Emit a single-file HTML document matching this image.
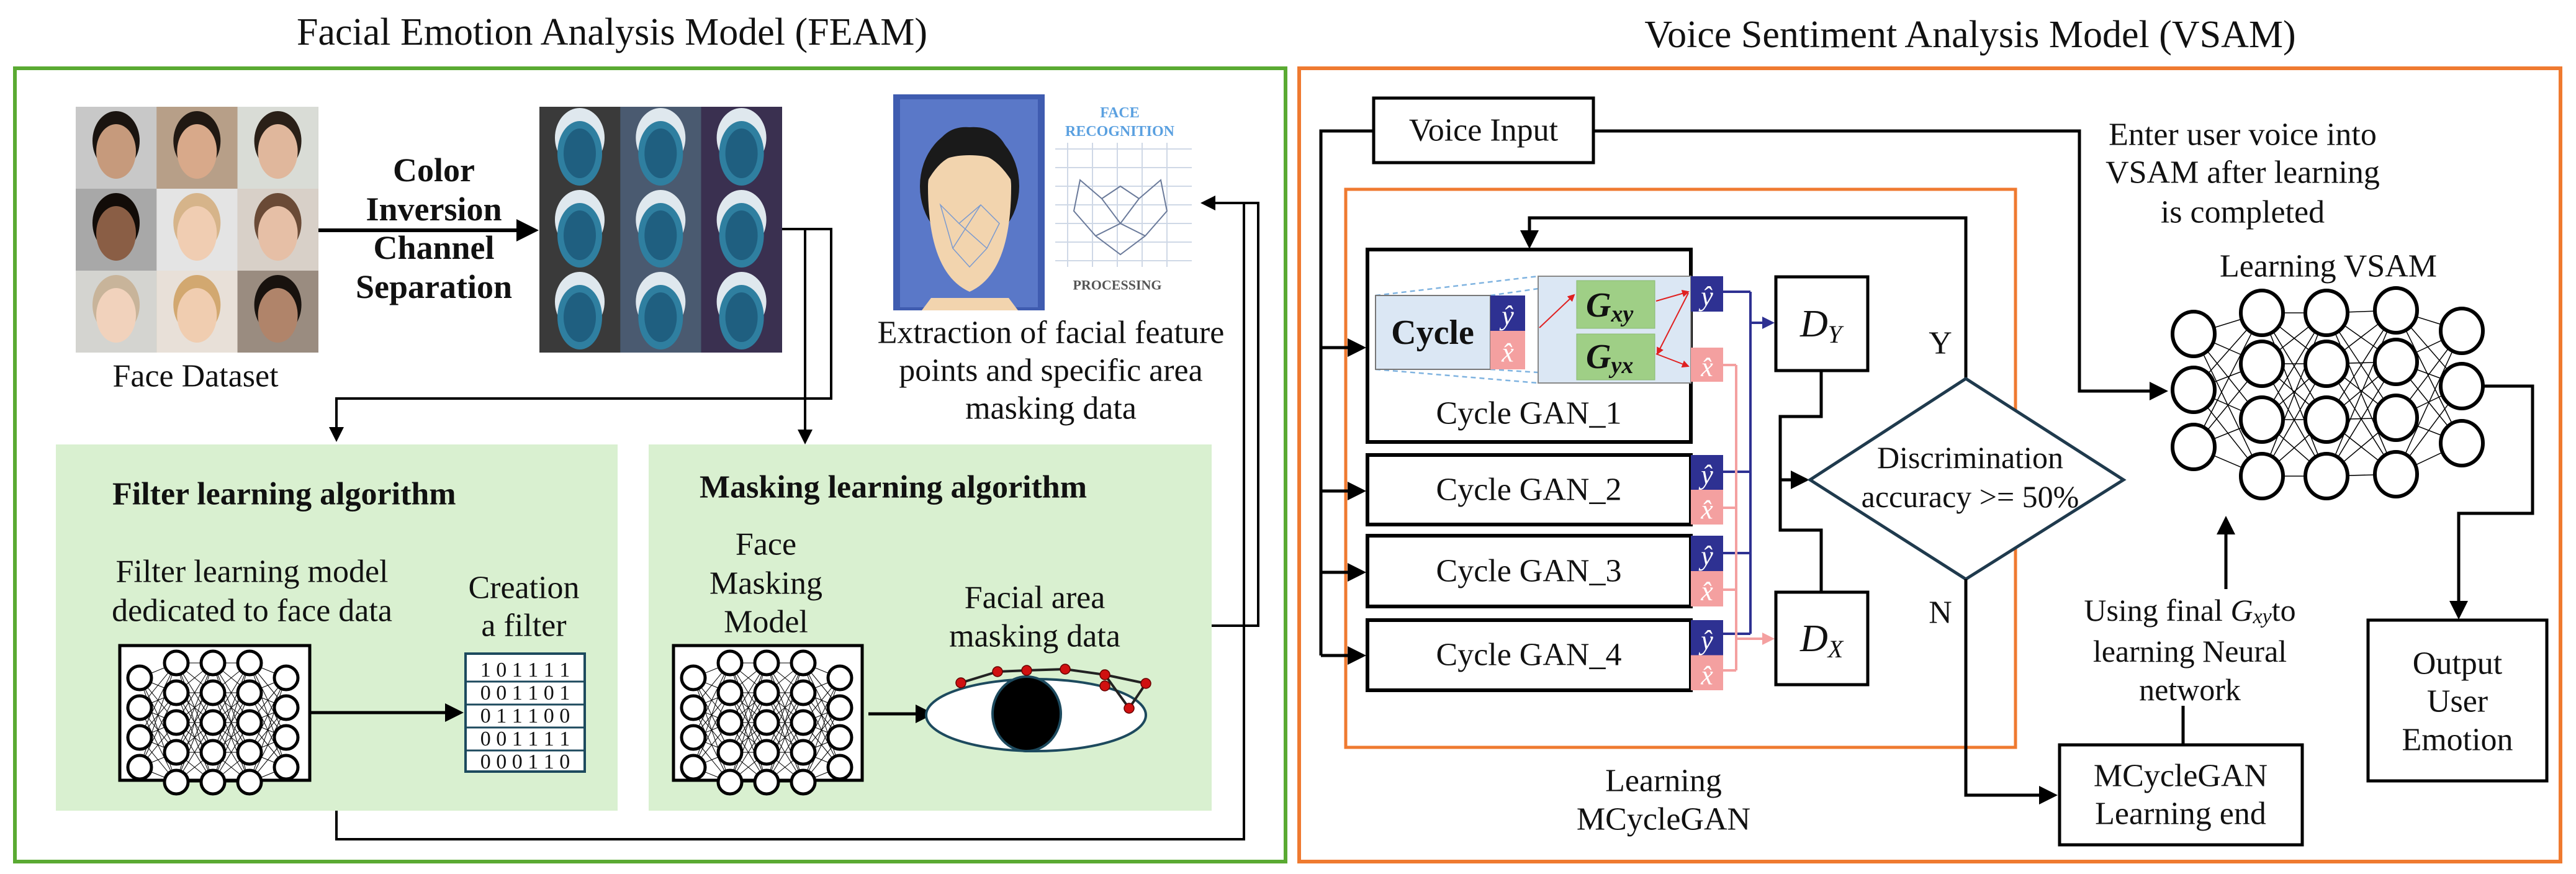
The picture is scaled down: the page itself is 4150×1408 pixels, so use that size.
<!DOCTYPE html>
<html><head><meta charset="utf-8"><style>
html,body{margin:0;padding:0;background:#fff}
svg{display:block}
text{font-family:"Liberation Serif",serif;fill:#111}
</style></head><body>
<svg id="s" width="4150" height="1408" viewBox="0 0 4150 1408" xmlns="http://www.w3.org/2000/svg">
<defs>
<marker id="ah" markerWidth="6" markerHeight="6" refX="5" refY="3" orient="auto" markerUnits="strokeWidth"><path d="M0,0 L6,3 L0,6 z" fill="#000"/></marker>
<marker id="ab" markerWidth="5" markerHeight="5" refX="4" refY="2.5" orient="auto" markerUnits="strokeWidth"><path d="M0,0 L5,2.5 L0,5 z" fill="#2e3192"/></marker>
<marker id="ap" markerWidth="5" markerHeight="5" refX="4" refY="2.5" orient="auto" markerUnits="strokeWidth"><path d="M0,0 L5,2.5 L0,5 z" fill="#f4a0a0"/></marker>
<marker id="ar" markerWidth="6" markerHeight="6" refX="5" refY="3" orient="auto" markerUnits="strokeWidth"><path d="M0,0 L6,3 L0,6 z" fill="#e02020"/></marker>
</defs>

<!-- Titles -->
<text x="986" y="52" font-size="62" text-anchor="middle" dominant-baseline="central">Facial Emotion Analysis Model (FEAM)</text>
<text x="3174" y="56" font-size="62" text-anchor="middle" dominant-baseline="central">Voice Sentiment Analysis Model (VSAM)</text>

<!-- Outer boxes -->
<rect x="24" y="110" width="2047" height="1278" fill="none" stroke="#5aaa32" stroke-width="6"/>
<rect x="2093" y="110" width="2032" height="1278" fill="none" stroke="#ef7a30" stroke-width="6"/>

<!-- Face dataset image -->
<g>
<rect x="122" y="172" width="391" height="396" fill="#b9ada4"/>
<g id="faces"></g>
</g>
<text x="315" y="606" font-size="52" text-anchor="middle" dominant-baseline="central">Face Dataset</text>

<g font-weight="bold" font-size="54">
<text x="699" y="274" text-anchor="middle" dominant-baseline="central">Color</text>
<text x="699" y="337" text-anchor="middle" dominant-baseline="central">Inversion</text>
<text x="699" y="399" text-anchor="middle" dominant-baseline="central">Channel</text>
<text x="699" y="462" text-anchor="middle" dominant-baseline="central">Separation</text>
</g>
<line x1="513" y1="371" x2="862" y2="371" stroke="#000" stroke-width="6" marker-end="url(#ah)"/>

<!-- Inverted image -->
<rect x="869" y="172" width="391" height="396" fill="#2b3a44"/>
<g id="inv"></g>

<!-- connectors from inverted -->
<polyline points="1260,369 1339,369 1339,642 542,642 542,708" fill="none" stroke="#000" stroke-width="4" marker-end="url(#ah)"/>
<polyline points="1260,369 1297,369 1297,712" fill="none" stroke="#000" stroke-width="4" marker-end="url(#ah)"/>

<!-- Face recognition image -->
<rect x="1439" y="152" width="244" height="348" fill="#3f5cb0"/>
<rect x="1450" y="160" width="222" height="335" fill="#5a78c8"/>
<ellipse cx="1562" cy="300" rx="80" ry="95" fill="#1a1a1a"/>
<path d="M1495,300 Q1495,440 1562,470 Q1629,440 1629,300 Q1629,250 1562,250 Q1495,250 1495,300z" fill="#f2d4ae"/>
<path d="M1500,480 L1625,480 L1640,500 L1485,500z" fill="#f2d4ae"/>
<path d="M1490,300 Q1500,200 1562,205 Q1630,200 1635,300 Q1600,240 1562,250 Q1520,240 1490,300z" fill="#1a1a1a"/>
<g stroke="#7a9ad0" stroke-width="1.5" fill="none"><path d="M1515,330 L1545,360 L1580,330 L1610,360 L1590,400 L1562,430 L1535,400 z M1545,360 L1590,400 M1580,330 L1535,400"/></g>
<rect x="1683" y="152" width="242" height="348" fill="#fff"/>
<g stroke="#cfd8e6" stroke-width="2">
<line x1="1700" y1="240" x2="1920" y2="240"/><line x1="1700" y1="270" x2="1920" y2="270"/><line x1="1700" y1="300" x2="1920" y2="300"/><line x1="1700" y1="330" x2="1920" y2="330"/><line x1="1700" y1="360" x2="1920" y2="360"/><line x1="1700" y1="390" x2="1920" y2="390"/><line x1="1700" y1="420" x2="1920" y2="420"/>
<line x1="1720" y1="230" x2="1720" y2="430"/><line x1="1760" y1="230" x2="1760" y2="430"/><line x1="1800" y1="230" x2="1800" y2="430"/><line x1="1840" y1="230" x2="1840" y2="430"/><line x1="1880" y1="230" x2="1880" y2="430"/>
</g>
<g stroke="#6a7a9a" stroke-width="2" fill="none"><path d="M1740,290 L1775,320 L1805,300 L1835,320 L1870,290 L1880,340 L1845,380 L1805,410 L1765,380 L1730,340 z M1775,320 L1805,360 L1835,320 M1765,380 L1805,360 L1845,380"/></g>
<text x="1804" y="182" font-family="Liberation Sans,sans-serif" font-weight="bold" font-size="24" fill="#5aa0e0" style="fill:#5aa0e0" text-anchor="middle" dominant-baseline="central">FACE</text>
<text x="1804" y="212" font-family="Liberation Sans,sans-serif" font-weight="bold" font-size="24" style="fill:#5aa0e0" text-anchor="middle" dominant-baseline="central">RECOGNITION</text>
<text x="1800" y="459" font-family="Liberation Sans,sans-serif" font-weight="bold" font-size="22" style="fill:#555" text-anchor="middle" dominant-baseline="central">PROCESSING</text>

<g font-size="52">
<text x="1693" y="536" text-anchor="middle" dominant-baseline="central">Extraction of facial feature</text>
<text x="1693" y="597" text-anchor="middle" dominant-baseline="central">points and specific area</text>
<text x="1693" y="658" text-anchor="middle" dominant-baseline="central">masking data</text>
</g>

<!-- green panels -->
<rect x="90" y="716" width="905" height="590" fill="#d9f0d0"/>
<rect x="1045" y="716" width="907" height="590" fill="#d9f0d0"/>
<text x="181" y="796" font-size="52" font-weight="bold" dominant-baseline="central">Filter learning algorithm</text>
<text x="1127" y="785" font-size="52" font-weight="bold" dominant-baseline="central">Masking learning algorithm</text>
<g font-size="52">
<text x="406" y="921" text-anchor="middle" dominant-baseline="central">Filter learning model</text>
<text x="406" y="984" text-anchor="middle" dominant-baseline="central">dedicated to face data</text>
<text x="844" y="947" text-anchor="middle" dominant-baseline="central">Creation</text>
<text x="844" y="1008" text-anchor="middle" dominant-baseline="central">a filter</text>
<text x="1234" y="877" text-anchor="middle" dominant-baseline="central">Face</text>
<text x="1234" y="940" text-anchor="middle" dominant-baseline="central">Masking</text>
<text x="1234" y="1002" text-anchor="middle" dominant-baseline="central">Model</text>
<text x="1667" y="963" text-anchor="middle" dominant-baseline="central">Facial area</text>
<text x="1667" y="1025" text-anchor="middle" dominant-baseline="central">masking data</text>
</g>

<rect x="193" y="1040" width="306" height="217" fill="#fff" stroke="#000" stroke-width="5"/>
<rect x="1085" y="1040" width="304" height="217" fill="#fff" stroke="#000" stroke-width="5"/>
<g id="smallnn"></g>

<!-- filter grid -->
<rect x="750" y="1053" width="192" height="190" fill="#fff" stroke="#1d4a5e" stroke-width="4"/>
<g font-family="Liberation Sans,sans-serif" font-size="34" text-anchor="middle">
<text x="846" y="1090">1 0 1 1 1 1</text>
<text x="846" y="1127">0 0 1 1 0 1</text>
<text x="846" y="1164">0 1 1 1 0 0</text>
<text x="846" y="1201">0 0 1 1 1 1</text>
<text x="846" y="1238">0 0 0 1 1 0</text>
</g>
<g stroke="#1d4a5e" stroke-width="3"><line x1="750" y1="1098" x2="942" y2="1098"/><line x1="750" y1="1135" x2="942" y2="1135"/><line x1="750" y1="1172" x2="942" y2="1172"/><line x1="750" y1="1209" x2="942" y2="1209"/></g>
<line x1="499" y1="1148" x2="742" y2="1148" stroke="#000" stroke-width="5" marker-end="url(#ah)"/>
<line x1="1399" y1="1150" x2="1500" y2="1150" stroke="#000" stroke-width="5" marker-end="url(#ah)"/>

<!-- eye -->
<ellipse cx="1669" cy="1152" rx="177" ry="58" fill="#fff" stroke="#1d4a5e" stroke-width="4"/>
<ellipse cx="1654" cy="1150" rx="55" ry="60" fill="#000" stroke="#1d4a5e" stroke-width="4"/>
<polyline points="1548,1100 1607,1082 1654,1080 1716,1078 1780,1087 1846,1101 1819,1141 1780,1087" fill="none" stroke="#222" stroke-width="4"/>
<g fill="#d01010" stroke="#600" stroke-width="1.5"><circle cx="1548" cy="1100" r="8"/><circle cx="1607" cy="1082" r="8"/><circle cx="1654" cy="1080" r="8"/><circle cx="1716" cy="1078" r="8"/><circle cx="1780" cy="1087" r="8"/><circle cx="1780" cy="1105" r="8"/><circle cx="1846" cy="1101" r="8"/><circle cx="1819" cy="1141" r="8"/></g>

<!-- feedback lines FEAM -->
<polyline points="542,1306 542,1352 2004,1352 2004,327 1938,327" fill="none" stroke="#000" stroke-width="4" marker-end="url(#ah)"/>
<polyline points="1952,1008 2027,1008 2027,327 1938,327" fill="none" stroke="#000" stroke-width="4"/>

<!-- ============ VSAM ============ -->
<rect x="2168" y="305" width="1079" height="899" fill="none" stroke="#ef7a30" stroke-width="5"/>
<rect x="2213" y="158" width="354" height="104" fill="#fff" stroke="#000" stroke-width="5"/>
<text x="2390" y="210" font-size="52" text-anchor="middle" dominant-baseline="central">Voice Input</text>
<polyline points="2213,211 2128,211 2128,1056" fill="none" stroke="#000" stroke-width="5"/>
<g stroke="#000" stroke-width="5" marker-end="url(#ah)">
<line x1="2128" y1="560" x2="2196" y2="560"/><line x1="2128" y1="791" x2="2196" y2="791"/><line x1="2128" y1="922" x2="2196" y2="922"/><line x1="2128" y1="1056" x2="2196" y2="1056"/>
</g>
<polyline points="2567,211 3350,211 3350,630 3488,630" fill="none" stroke="#000" stroke-width="5" marker-end="url(#ah)"/>

<!-- GAN boxes -->
<rect x="2203" y="402" width="521" height="310" fill="#fff" stroke="#000" stroke-width="6"/>
<rect x="2203" y="733" width="521" height="112" fill="#fff" stroke="#000" stroke-width="6"/>
<rect x="2203" y="863" width="521" height="114" fill="#fff" stroke="#000" stroke-width="6"/>
<rect x="2203" y="999" width="521" height="113" fill="#fff" stroke="#000" stroke-width="6"/>
<g font-size="52" text-anchor="middle">
<text x="2463" y="666" dominant-baseline="central">Cycle GAN_1</text>
<text x="2463" y="789" dominant-baseline="central">Cycle GAN_2</text>
<text x="2463" y="920" dominant-baseline="central">Cycle GAN_3</text>
<text x="2463" y="1055" dominant-baseline="central">Cycle GAN_4</text>
</g>
<polyline points="3167,610 3167,351 2464,351 2464,396" fill="none" stroke="#000" stroke-width="5" marker-end="url(#ah)"/>

<!-- Cycle inner detail -->
<g stroke="#7fb3e0" stroke-width="2.5" stroke-dasharray="8,6" fill="none">
<line x1="2216" y1="476" x2="2478" y2="445"/><line x1="2216" y1="595" x2="2478" y2="617"/>
<line x1="2401" y1="476" x2="2478" y2="465"/><line x1="2401" y1="595" x2="2478" y2="600"/>
</g>
<rect x="2216" y="476" width="185" height="119" fill="#dbe7f4" stroke="#777" stroke-width="2"/>
<text x="2308" y="536" font-family="Liberation Sans,sans-serif" font-weight="bold" font-size="56" text-anchor="middle" dominant-baseline="central">Cycle</text>
<rect x="2401" y="476" width="56" height="57" fill="#2e3192"/>
<rect x="2401" y="533" width="56" height="62" fill="#f4a0a0"/>
<rect x="2478" y="445" width="246" height="172" fill="#dbe7f4" stroke="#888" stroke-width="2"/>
<rect x="2540" y="452" width="126" height="77" fill="#9fcf86" stroke="#8ab870" stroke-width="1"/>
<rect x="2540" y="538" width="126" height="74" fill="#9fcf86" stroke="#8ab870" stroke-width="1"/>
<text x="2555" y="492" font-weight="bold" font-style="italic" font-size="56" dominant-baseline="central">G<tspan font-size="38" dy="14">xy</tspan></text>
<text x="2555" y="575" font-weight="bold" font-style="italic" font-size="56" dominant-baseline="central">G<tspan font-size="38" dy="14">yx</tspan></text>
<g stroke="#e02020" stroke-width="2" marker-end="url(#ar)">
<line x1="2480" y1="528" x2="2536" y2="475"/><line x1="2668" y1="485" x2="2720" y2="470"/><line x1="2720" y1="472" x2="2670" y2="570"/><line x1="2668" y1="570" x2="2720" y2="590"/>
</g>
<g id="hats"></g>

<!-- blue & pink routing -->
<g fill="none" stroke="#2e3192" stroke-width="4">
<line x1="2776" y1="470" x2="2820" y2="470"/><line x1="2776" y1="760" x2="2820" y2="760"/><line x1="2776" y1="891" x2="2820" y2="891"/><line x1="2776" y1="1021" x2="2820" y2="1021"/>
<line x1="2820" y1="470" x2="2820" y2="1021"/>
<line x1="2820" y1="520" x2="2855" y2="520" marker-end="url(#ab)"/>
</g>
<g fill="none" stroke="#f4a0a0" stroke-width="4">
<line x1="2776" y1="588" x2="2797" y2="588"/><line x1="2776" y1="818" x2="2797" y2="818"/><line x1="2776" y1="950" x2="2797" y2="950"/><line x1="2776" y1="1080" x2="2797" y2="1080"/>
<line x1="2797" y1="588" x2="2797" y2="1080"/>
<line x1="2797" y1="1029" x2="2855" y2="1029" marker-end="url(#ap)"/>
</g>

<!-- D boxes -->
<rect x="2861" y="446" width="148" height="151" fill="#fff" stroke="#000" stroke-width="5"/>
<rect x="2861" y="954" width="148" height="149" fill="#fff" stroke="#000" stroke-width="5"/>
<text x="2900" y="522" font-style="italic" font-size="62" dominant-baseline="central">D<tspan font-size="40" dy="16">Y</tspan></text>
<text x="2900" y="1029" font-style="italic" font-size="62" dominant-baseline="central">D<tspan font-size="40" dy="16">X</tspan></text>
<polyline points="2934,597 2934,671 2868,671 2868,854 2934,854 2934,954" fill="none" stroke="#000" stroke-width="5"/>
<line x1="2868" y1="773" x2="2910" y2="773" stroke="#000" stroke-width="5" marker-end="url(#ah)"/>

<!-- diamond -->
<polygon points="3167,610 3421,773 3167,933 2916,773" fill="#fff" stroke="#1f3a4d" stroke-width="5"/>
<text x="3174" y="737" font-size="50" text-anchor="middle" dominant-baseline="central">Discrimination</text>
<text x="3174" y="800" font-size="50" text-anchor="middle" dominant-baseline="central">accuracy &gt;= 50%</text>
<text x="3126" y="553" font-size="52" text-anchor="middle" dominant-baseline="central">Y</text>
<text x="3126" y="987" font-size="52" text-anchor="middle" dominant-baseline="central">N</text>
<polyline points="3167,933 3167,1281 3310,1281" fill="none" stroke="#000" stroke-width="5" marker-end="url(#ah)"/>

<rect x="3318" y="1200" width="391" height="161" fill="#fff" stroke="#000" stroke-width="5"/>
<text x="3513" y="1250" font-size="52" text-anchor="middle" dominant-baseline="central">MCycleGAN</text>
<text x="3513" y="1311" font-size="52" text-anchor="middle" dominant-baseline="central">Learning end</text>
<line x1="3517" y1="1200" x2="3517" y2="1137" stroke="#000" stroke-width="5"/>
<text x="3528" y="983" font-size="50" text-anchor="middle" dominant-baseline="central">Using final <tspan font-style="italic">G</tspan><tspan font-style="italic" font-size="34" dy="10">xy</tspan><tspan dy="-10">to</tspan></text>
<text x="3528" y="1049" font-size="50" text-anchor="middle" dominant-baseline="central">learning Neural</text>
<text x="3528" y="1111" font-size="50" text-anchor="middle" dominant-baseline="central">network</text>
<line x1="3586" y1="949" x2="3586" y2="836" stroke="#000" stroke-width="5" marker-end="url(#ah)"/>

<text x="3613" y="217" font-size="52" text-anchor="middle" dominant-baseline="central">Enter user voice into</text>
<text x="3613" y="278" font-size="52" text-anchor="middle" dominant-baseline="central">VSAM after learning</text>
<text x="3613" y="342" font-size="52" text-anchor="middle" dominant-baseline="central">is completed</text>
<text x="3751" y="429" font-size="52" text-anchor="middle" dominant-baseline="central">Learning VSAM</text>
<g id="bignn"></g>

<polyline points="4001,622 4080,622 4080,827 3961,827 3961,993" fill="none" stroke="#000" stroke-width="5" marker-end="url(#ah)"/>
<rect x="3815" y="999" width="288" height="259" fill="#fff" stroke="#000" stroke-width="5"/>
<text x="3959" y="1069" font-size="52" text-anchor="middle" dominant-baseline="central">Output</text>
<text x="3959" y="1130" font-size="52" text-anchor="middle" dominant-baseline="central">User</text>
<text x="3959" y="1192" font-size="52" text-anchor="middle" dominant-baseline="central">Emotion</text>
<text x="2680" y="1258" font-size="52" text-anchor="middle" dominant-baseline="central">Learning</text>
<text x="2680" y="1320" font-size="52" text-anchor="middle" dominant-baseline="central">MCycleGAN</text>
</svg>
<script>
var NS="http://www.w3.org/2000/svg";
function el(p,t,a){var e=document.createElementNS(NS,t);for(var k in a)e.setAttribute(k,a[k]);document.getElementById(p).appendChild(e);return e;}
// faces
var skin=["#c69a7c","#d8a98a","#e0b79c","#8a5e45","#f0cdb2","#e6bfa6","#f1d2bc","#f0cdb0","#b0846a"];
var bg=["#c8c8c8","#b79f88","#d9dcd6","#a8a8a8","#e4e4e4","#d8d0c8","#d4d4d0","#e8e0d8","#9a8c80"];
var hair=["#1a1410","#201812","#2a2018","#120c08","#d6b48a","#6a4a36","#c8b49a","#d2a870","#18120e"];
for(var i=0;i<9;i++){var c=i%3,r=Math.floor(i/3),x=122+c*130.3,y=172+r*132;
el("faces","rect",{x:x,y:y,width:130.3,height:132,fill:bg[i]});
el("faces","ellipse",{cx:x+65,cy:y+55,rx:38,ry:48,fill:hair[i]});
el("faces","ellipse",{cx:x+65,cy:y+72,rx:32,ry:44,fill:skin[i]});
el("inv","rect",{x:869+c*130.3,y:y,width:130.3,height:132,fill:["#3a3a3a","#4a5a70","#3a3050"][c]});
el("inv","ellipse",{cx:869+c*130.3+65,cy:y+50,rx:40,ry:48,fill:"#dfe8ee"});
el("inv","ellipse",{cx:869+c*130.3+65,cy:y+75,rx:36,ry:52,fill:"#2f7fa0"});
el("inv","ellipse",{cx:869+c*130.3+65,cy:y+75,rx:26,ry:40,fill:"#1f5f80"});
}
// small NN
function nn(p,ox,oy){var cols=[[0,1,2,3],[0,1,2,3,4],[0,1,2,3,4],[0,1,2,3,4],[0,1,2,3]];var pts=[];
for(var c=0;c<5;c++){pts[c]=[];var n=cols[c].length;for(var j=0;j<n;j++){var yy=n==4?oy+52+j*48:oy+28+j*48;pts[c].push([ox+32+c*59,yy]);}}
for(var c=0;c<4;c++)for(var a=0;a<pts[c].length;a++)for(var b=0;b<pts[c+1].length;b++)el(p,"line",{x1:pts[c][a][0],y1:pts[c][a][1],x2:pts[c+1][b][0],y2:pts[c+1][b][1],stroke:"#000","stroke-width":1});
for(var c=0;c<5;c++)for(var a=0;a<pts[c].length;a++)el(p,"circle",{cx:pts[c][a][0],cy:pts[c][a][1],r:19,fill:"#fff",stroke:"#000","stroke-width":5});}
nn("smallnn",193,1040);nn("smallnn",1085,1040);
// big NN
var X=[3534,3644,3748,3860,3966],Y=[[538,628,720],[504,586,676,767],[504,586,676,767],[500,583,673,764],[533,622,714]];
for(var c=0;c<4;c++)for(var a=0;a<Y[c].length;a++)for(var b=0;b<Y[c+1].length;b++)el("bignn","line",{x1:X[c],y1:Y[c][a],x2:X[c+1],y2:Y[c+1][b],stroke:"#000","stroke-width":1.5});
for(var c=0;c<5;c++)for(var a=0;a<Y[c].length;a++)el("bignn","ellipse",{cx:X[c],cy:Y[c][a],rx:34,ry:36,fill:"#fff",stroke:"#000","stroke-width":6});
// hats
function hat(x,y,w,h,col,ch){el("hats","rect",{x:x,y:y,width:w,height:h,fill:col});var t=el("hats","text",{x:x+w/2,y:y+h/2+4,"font-size":44,"font-style":"italic","text-anchor":"middle","dominant-baseline":"central",style:"fill:#fff"});t.textContent=ch;}
hat(2401,476,56,57,"#2e3192","ŷ");hat(2401,533,56,62,"#f4a0a0","x̂");
hat(2724,445,52,57,"#2e3192","ŷ");hat(2724,560,52,55,"#f4a0a0","x̂");
[[733,845],[863,977],[999,1112]].forEach(function(r){var m=(r[0]+r[1])/2;hat(2724,r[0],52,m-r[0],"#2e3192","ŷ");hat(2724,m,52,r[1]-m,"#f4a0a0","x̂");});
</script>
</body></html>
